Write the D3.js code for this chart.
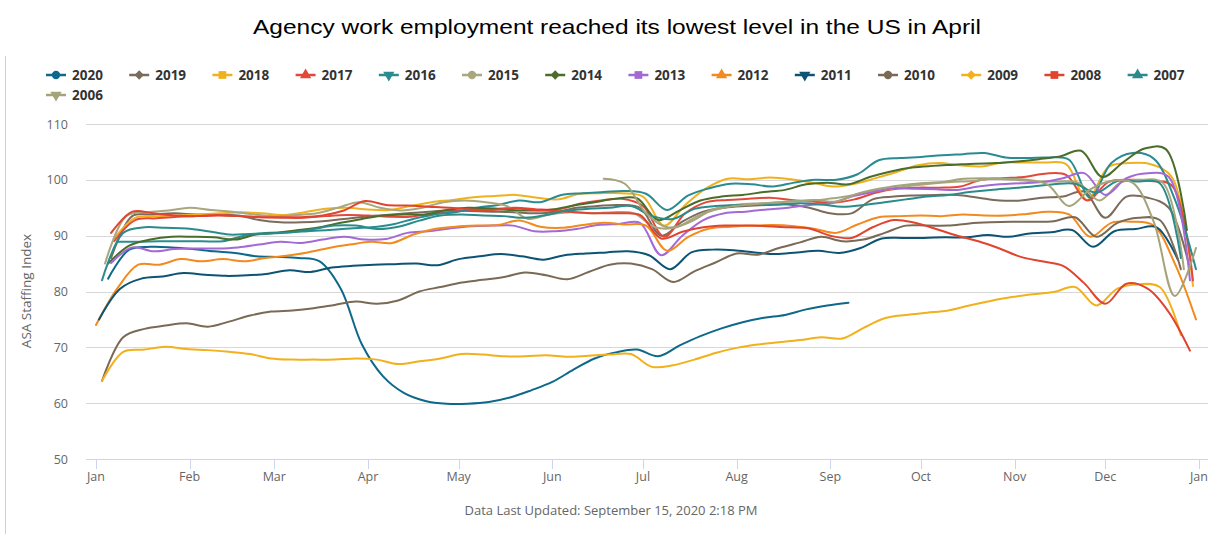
<!DOCTYPE html>
<html><head><meta charset="utf-8">
<script src="https://cdn.jsdelivr.net/npm/d3@7"></script>
<style>
body{margin:0;background:#fff;}
svg{display:block;font-family:'Open Sans','Noto Sans',sans-serif;}
</style>
</head><body>
<svg id="chart" width="1224" height="534"></svg>
<script>
// ---------------- DATA ----------------
const years = ["2020","2019","2018","2017","2016","2015","2014","2013","2012","2011","2010","2009","2008","2007","2006"];
const colors = ["#0e6889","#7b6b5d","#efb120","#e3493b","#2a8b90","#a9a77e","#4a6d29","#a369d5","#f28a1e","#0d5474","#7a6955","#f2b01c","#e0442f","#2a8c8a","#a4a37a"];
const symbols = ["circle","diamond","square","triangle","triangle-down","circle","diamond","square","triangle","triangle-down","circle","diamond","square","triangle","triangle-down"];
// first weekly observation (month-day) of each series
const startDates = ["01-05","01-06","01-07","01-07","01-08","01-04","01-05","01-06","01-01","01-02","01-03","01-03","01-06","01-03","06-18"];
const monthLabels = ["Jan","Feb","Mar","Apr","May","Jun","Jul","Aug","Sep","Oct","Nov","Dec","Jan"];
const yTicks = [50,60,70,80,90,100,110];

const v2020 = [82.3,87.5,88,87.9,87.6,87.2,86.9,86.3,86.2,86,85.4,80.5,70.5,64.8,61.8,60.4,59.9,59.9,60.2,61,62.3,63.8,66,68,69.1,69.6,68.4,70.3,72,73.4,74.5,75.3,75.8,76.8,77.5,78];
const v2019 = [86,93.5,93.8,94,93.8,93.8,93.6,92.8,92.4,92.4,92.6,93,93.4,93.7,94,94.3,94.5,94.4,94.3,94.2,94,94.2,95,95.3,95.5,95,90,92.5,94.3,95,95.3,95.5,95.6,95,94,94,96.5,97,97.2,97.3,97.3,96.8,96.3,96.3,96.8,97,97.9,93.2,97,96.8,95,84];
const v2018 = [89.5,93.2,93.5,93.6,93.8,94,94.2,94,93.7,94.2,94.8,95,94.7,94.6,95.3,96,96.4,96.9,97.1,97.3,96.8,96.5,97.5,97.6,97.6,97,91.8,95.5,98.5,100.2,100.1,100.4,100.1,99.5,98.8,99.3,100.3,101.4,102.6,103,102.6,102.4,103.1,103.1,103.1,102.8,96.4,102.3,103,102.8,100.5,81];
const v2017 = [89,92.8,93.1,93.4,93.5,93.6,93.5,93.3,93.2,93.2,93.5,93.7,93.6,93.4,93.4,93.9,94.3,94.6,94.8,95,94.7,94.7,95.7,96.3,96.6,95.3,89.8,94,96,96.4,96.6,96.8,96.4,96.1,95.9,96.5,97.7,98.4,98.6,98.6,98.8,100,100.3,100.5,101.1,100.9,96.3,99.6,100,99.8,99,82];
const v2016 = [88.9,88.9,89,89,89,89,90,90.5,90.6,90.8,91,91.3,91.5,92,93,93.8,94.2,95,95.5,96.3,96,97.3,97.6,97.8,98,97.5,94.6,97.2,98.5,99.3,99.2,98.8,99.5,100,100,101,103.5,103.9,104.1,104.4,104.6,104.8,104,103.9,104,103.6,96.8,103,104.8,103.8,96.5,84];
const v2015 = [85,93.5,94.2,94.5,95,94.6,94.3,93.8,93.5,93.7,94,95,96,95,94.5,95,96,96.3,96,95.3,93,93.8,94.2,94,94.2,94,91.5,91.5,93.5,95,95.6,95.8,96,96.2,96.5,97,97.8,98.3,98.9,99.3,99.6,99.8,100.2,100,99.7,99.7,99.5,96.3,99.5,100,99.5,84];
const v2014 = [85,88.2,89.3,89.8,89.8,89.7,89.3,90.2,90.5,91,91.5,92.3,93,93.6,93.8,93.8,94.6,95,94.9,94.6,94.5,94.7,95.4,96,96.6,96.7,92.8,94.5,96.3,97,97.3,97.8,98.2,99.2,99.5,99.2,100.5,101.5,102.2,102.5,102.7,102.9,103,103.3,103.7,104.2,105.2,100.5,103.2,105.6,105.5,91];
const v2013 = [85.1,87.9,87.2,87.6,87.7,87.7,87.9,88.4,88.9,88.7,89.3,89.8,89.3,89.4,90.5,90.8,91.3,91.7,91.8,91.8,90.8,90.8,91.2,91.9,92.1,92.3,86.5,90,92.8,94,94.3,94.7,95,95.5,95.8,97,97.8,98.5,98.4,98.3,98.2,98.8,99.2,99.4,99.6,100.3,101.2,97.3,100.3,101.2,100.5,82];
const v2012 = [74,80.5,84.8,84.8,85.8,85.4,85.8,85.4,86,86.4,87,87.8,88.4,88.9,88.7,90.2,91.2,91.6,91.8,91.9,92.7,91.6,91.4,91.9,92.3,92,91.8,87.3,89.8,91.3,91.6,91.8,91.9,91.7,91.2,90.5,92,93.3,93.5,93.6,93.5,93.8,93.6,93.6,93.9,94.3,93.8,89.8,92.3,92.5,91.8,85,75];
const v2011 = [75,80.5,82.3,82.7,83.3,83,82.8,82.9,83.2,83.8,83.5,84.3,84.6,84.8,84.9,85,84.7,85.8,86.3,86.7,86.3,85.7,86.5,86.8,87,87.2,86.5,84,87,87.5,87.4,87,86.7,87,87.3,86.9,87.8,89.5,89.6,89.6,89.7,89.7,90.1,89.8,90.4,90.6,91,88,90.8,91.2,91.5,85.7];
const v2010 = [64,71.8,73.3,73.9,74.3,73.7,74.6,75.7,76.4,76.6,77,77.6,78.2,77.8,78.4,80,80.8,81.6,82.1,82.6,83.4,82.9,82.2,83.5,84.8,85,84,81.7,83.6,85.2,86.8,86.6,87.8,88.8,89.8,89,89.3,90.5,91.8,91.8,91.8,92.2,92.4,92.5,92.5,92.6,93.3,89.8,92.3,93.2,92.8,84];
const v2009 = [64,69.2,69.6,70.1,69.7,69.5,69.2,68.8,68,67.8,67.8,67.8,68,67.8,67,67.5,68,68.8,68.7,68.4,68.4,68.6,68.3,68.5,68.7,68.8,66.5,66.8,67.8,69,69.9,70.5,70.9,71.3,71.8,71.6,73.5,75.2,75.8,76.2,76.6,77.5,78.3,79,79.5,79.9,80.8,77.5,80.5,81.3,80.8,72.2];
const v2008 = [90.5,94.3,94,93.6,93.5,93.7,93.5,93.3,93.3,93.3,93.6,94.5,96.2,95.5,95.4,95.2,95,94.7,94.6,94.9,94.6,94.4,94.2,94,94,93.7,89.5,90.7,91.5,91.8,91.8,91.7,91.5,91.3,90,89.6,91.5,92.8,92.3,91.2,90,89,87.7,86.2,85.4,84.6,81.5,77.8,81.4,80.5,76.3,69.4];
const v2007 = [82,90.5,91.5,91.4,91.3,90.8,90.2,90.3,90.4,90.6,91.2,91.8,91.8,91.2,91.6,92.7,93.6,93.8,93.6,93.5,93.2,93.7,94.5,94.8,95,95.3,93.5,93,94.8,95.3,95.5,95.5,95.6,95.8,95.6,95.2,95.5,96,96.5,97,97.3,97.8,98.2,98.5,98.8,99.2,99.3,97.7,99.8,99.7,99.4,86];
const v2006 = [100.2,99.3,94,91.5,92.3,94.3,95.2,95.6,95.9,96.2,96.4,96.1,97.5,98.4,99,99.4,99.6,100.2,100.3,100.2,100,99.1,95.3,98.3,99.8,99.5,92.5,79.2,87.8];
const seriesValues = [v2020,v2019,v2018,v2017,v2016,v2015,v2014,v2013,v2012,v2011,v2010,v2009,v2008,v2007,v2006];

// ---------------- CHART ----------------
const svg = d3.select("#chart");
const W = 1224, H = 534;
const plotLeft = 86, plotRight = 1208;
const parse = d3.timeParse("%Y-%m-%d");
const yearStart = parse("2001-01-01"), yearEnd = parse("2002-01-01");
const x = d3.scaleTime().domain([yearStart, yearEnd]).range([96, 1199]);
const y = d3.scaleLinear().domain([50, 110]).range([459, 124]);

const series = years.map((yr, i) => {
  const s = parse("2001-" + startDates[i]);
  return {
    year: yr, color: colors[i], symbol: symbols[i],
    points: seriesValues[i].map((v, k) => ({date: d3.timeDay.offset(s, 7 * k), value: v}))
  };
});

// border
svg.append("line").attr("x1", 5.5).attr("x2", 5.5).attr("y1", 56).attr("y2", H)
  .attr("stroke", "#d0d0d0").attr("stroke-width", 1);

// title
svg.append("text").attr("x", 617).attr("y", 34).attr("text-anchor", "middle")
  .attr("font-family", "'Liberation Sans', Arial, sans-serif")
  .attr("font-size", 21).attr("fill", "#000")
  .attr("textLength", 728).attr("lengthAdjust", "spacingAndGlyphs")
  .text("Agency work employment reached its lowest level in the US in April");

// gridlines + y labels
const gy = svg.append("g");
yTicks.forEach(t => {
  if (t !== 50) {
    gy.append("line").attr("x1", plotLeft).attr("x2", plotRight)
      .attr("y1", Math.round(y(t)) + 0.5).attr("y2", Math.round(y(t)) + 0.5)
      .attr("stroke", "#d8d8d8").attr("stroke-width", 1);
  }
  gy.append("text").attr("x", 68).attr("y", y(t) + 4.5).attr("text-anchor", "end")
    .attr("font-size", 12.5).attr("fill", "#666").text(t);
});

// y axis title
svg.append("text").attr("transform", "translate(31,291) rotate(-90)")
  .attr("text-anchor", "middle").attr("font-size", 13.5).attr("fill", "#666")
  .text("ASA Staffing Index");

// x axis
const months = d3.timeMonth.range(yearStart, d3.timeDay.offset(yearEnd, 1));
const gx = svg.append("g");
gx.append("line").attr("x1", plotLeft).attr("x2", plotRight).attr("y1", 459.5).attr("y2", 459.5)
  .attr("stroke", "#ccd6eb");
months.forEach((m, i) => {
  const xx = Math.round(x(m)) + 0.5;
  gx.append("line").attr("x1", xx).attr("x2", xx).attr("y1", 459).attr("y2", 469)
    .attr("stroke", "#ccd6eb");
  gx.append("text").attr("x", x(m)).attr("y", 481).attr("text-anchor", "middle")
    .attr("font-size", 12.5).attr("fill", "#666").text(monthLabels[i]);
});

// lines
const line = d3.line().x(d => x(d.date)).y(d => y(d.value)).curve(d3.curveCatmullRom.alpha(0.5));
const gl = svg.append("g");
series.forEach(s => {
  gl.append("path").datum(s.points).attr("d", line).attr("fill", "none")
    .attr("stroke", s.color).attr("stroke-width", 2).attr("stroke-linejoin", "round").attr("stroke-linecap", "round");
});

// legend
const symMap = {
  "circle": d3.symbolCircle, "diamond": d3.symbolDiamond2, "square": d3.symbolSquare,
  "triangle": d3.symbolTriangle, "triangle-down": d3.symbolTriangle
};
const leg = svg.append("g");
series.forEach((s, i) => {
  const row = i < 14 ? 0 : 1;
  const col = i < 14 ? i : i - 14;
  const lx = 46 + col * 83.2;
  const ly = row === 0 ? 75 : 95;
  const g = leg.append("g").attr("transform", `translate(${lx},${ly})`);
  g.append("line").attr("x1", 0).attr("x2", 20).attr("y1", 0).attr("y2", 0)
    .attr("stroke", s.color).attr("stroke-width", 2.5);
  const sym = d3.symbol().type(symMap[s.symbol]).size(s.symbol === "square" ? 60 : 55);
  g.append("path").attr("d", sym()).attr("fill", s.color)
    .attr("transform", `translate(10,0)` + (s.symbol === "triangle-down" ? " rotate(180)" : ""));
  g.append("text").attr("x", 26).attr("y", 5).attr("font-size", 13.5).attr("font-weight", "bold")
    .attr("fill", "#333").text(s.year);
});

// footer
svg.append("text").attr("x", 611).attr("y", 515).attr("text-anchor", "middle")
  .attr("font-size", 13).attr("fill", "#666")
  .text("Data Last Updated: September 15, 2020 2:18 PM");
</script>
</body></html>
